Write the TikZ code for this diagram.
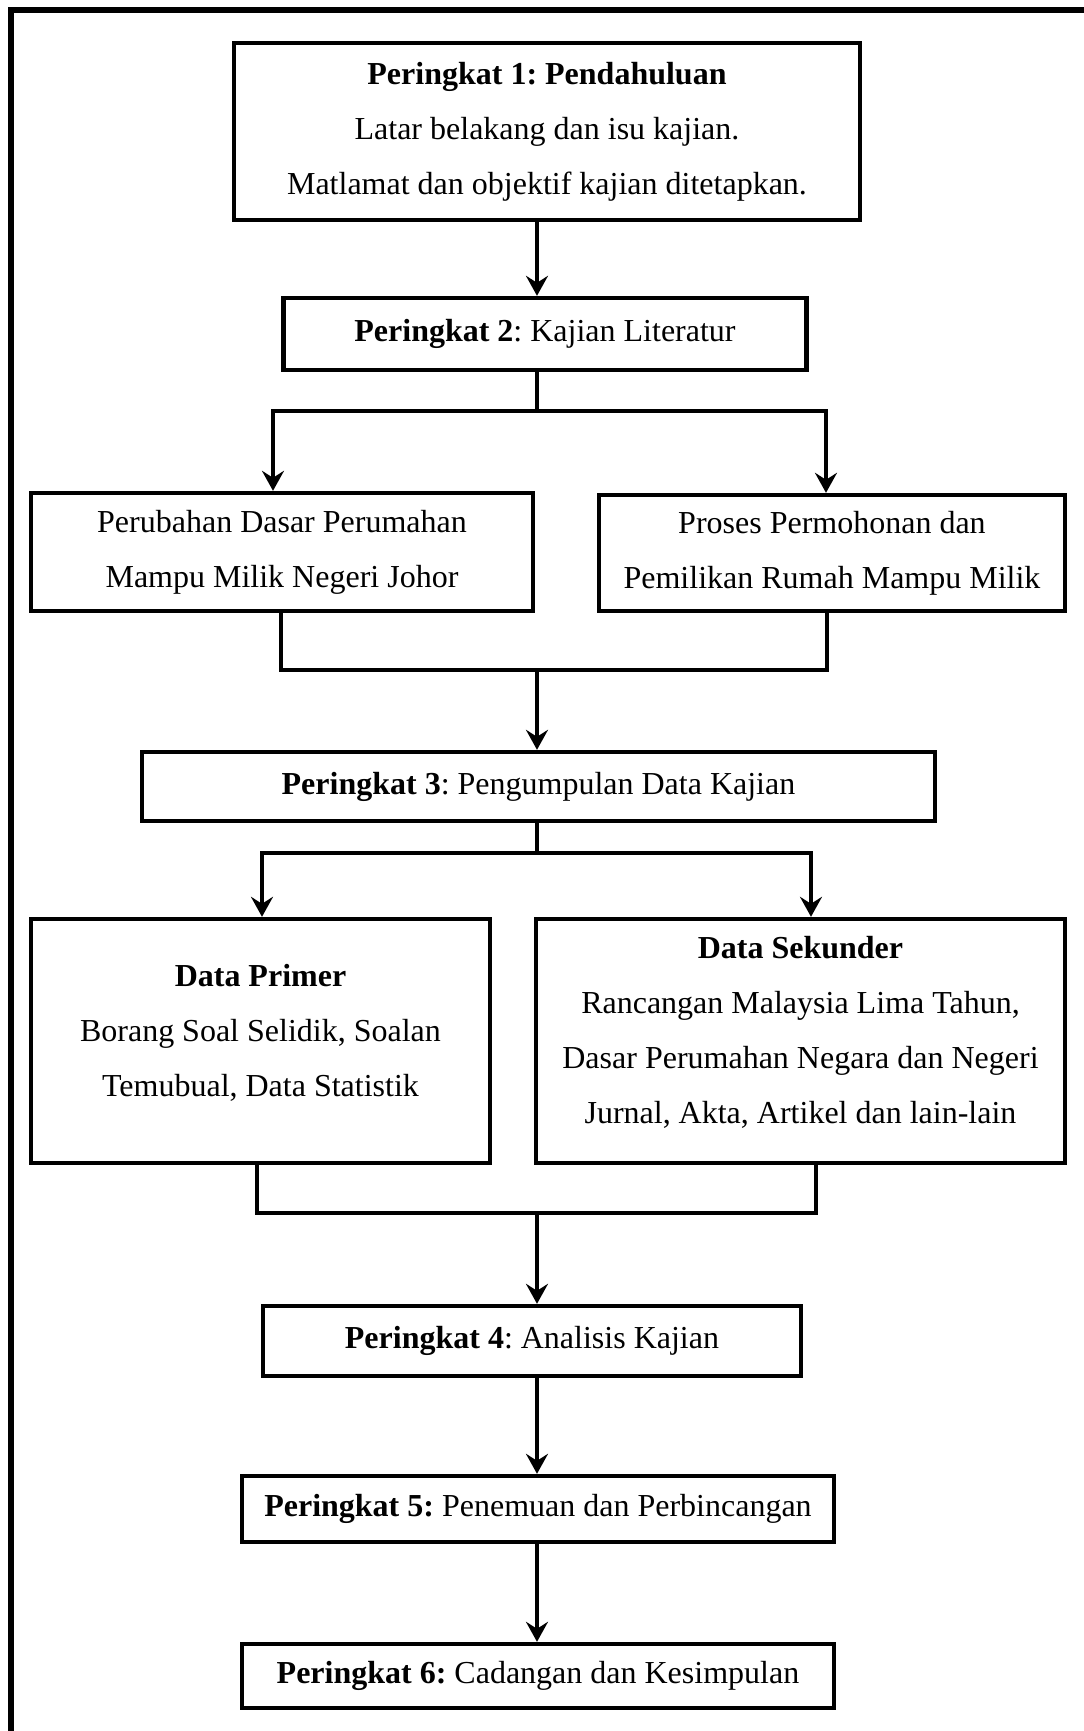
\documentclass[tikz,border=0pt]{standalone}
\usepackage{fontspec}
\setmainfont{Liberation Serif}
\usetikzlibrary{arrows.meta, positioning, calc}
\frenchspacing
\tikzset{
  >=Stealth,
  stagebox/.style={draw, line width=2.2pt, align=center, inner sep=0pt, font=\fontsize{16}{27.5}\selectfont},
  flowline/.style={line width=2pt, line join=miter},
  flowarrow/.style={-{Stealth[length=10pt, width=11pt, inset=3.5pt]}, line width=2pt, line join=miter}
}

\begin{document}
\begin{tikzpicture}[x=0.5pt, y=-0.5pt]
    \useasboundingbox (0,0) rectangle (1083,1731);
    % outer frame
    \draw[line width=3pt] (11,1745) -- (11,10) -- (1095,10);

    \node (pendahuluan) [stagebox, minimum width=313pt, minimum height=88.5pt] at (547,131.5)
      {\textbf{Peringkat 1: Pendahuluan}\\ Latar belakang dan isu kajian.\\ Matlamat dan objektif kajian ditetapkan.};
    \node (literatur) [stagebox, minimum width=261.5pt, minimum height=36pt] at (545,334)
      {\textbf{Peringkat 2}: Kajian Literatur};
    \node (perubahan) [stagebox, minimum width=251pt, minimum height=59pt] at (282,552)
      {Perubahan Dasar Perumahan\\ Mampu Milik Negeri Johor};
    \node (proses) [stagebox, minimum width=233pt, minimum height=58pt] at (832,553)
      {Proses Permohonan dan\\ Pemilikan Rumah Mampu Milik};
    \node (pengumpulan) [stagebox, minimum width=396.5pt, minimum height=34.5pt] at (538.5,786.5)
      {\textbf{Peringkat 3}: Pengumpulan Data Kajian};
    \node (primer) [stagebox, text depth=11pt, minimum width=229.5pt, minimum height=122pt] at (260.5,1041)
      {\textbf{Data Primer}\\ Borang Soal Selidik, Soalan\\ Temubual, Data Statistik};
    \node (sekunder) [stagebox, text depth=11pt, minimum width=264.5pt, minimum height=122pt] at (800.5,1041)
      {\textbf{Data Sekunder}\\ Rancangan Malaysia Lima Tahun,\\ Dasar Perumahan Negara dan Negeri\\ Jurnal, Akta, Artikel dan lain-lain};
    \node (analisis) [stagebox, minimum width=269pt, minimum height=35pt] at (532,1341)
      {\textbf{Peringkat 4}: Analisis Kajian};
    \node (penemuan) [stagebox, minimum width=296pt, minimum height=33pt] at (538,1509)
      {\textbf{Peringkat 5:} Penemuan dan Perbincangan};
    \node (cadangan) [stagebox, minimum width=296pt, minimum height=32pt] at (538,1676)
      {\textbf{Peringkat 6:} Cadangan dan Kesimpulan};

    % junction points
    \coordinate (axis) at (537,0);
    \coordinate (fork1) at (537,411);
    \coordinate (fork1L) at (273,0);
    \coordinate (fork1R) at (826,0);
    \coordinate (merge1) at (537,670);
    \coordinate (merge1L) at (281,0);
    \coordinate (merge1R) at (827,0);
    \coordinate (fork2) at (537,853);
    \coordinate (fork2L) at (262,0);
    \coordinate (fork2R) at (811,0);
    \coordinate (merge2) at (537,1213);
    \coordinate (merge2L) at (257,0);
    \coordinate (merge2R) at (816,0);

    \draw[flowarrow] (pendahuluan.south -| axis) -- (literatur.north -| axis);

    \draw[flowline] (literatur.south -| axis) -- (fork1);
    \draw[flowarrow] (fork1) -| (perubahan.north -| fork1L);
    \draw[flowarrow] (fork1) -| (proses.north -| fork1R);

    \draw[flowline] (perubahan.south -| merge1L) |- (merge1) -| (proses.south -| merge1R);
    \draw[flowarrow] (merge1) -- (pengumpulan.north -| merge1);

    \draw[flowline] (pengumpulan.south -| axis) -- (fork2);
    \draw[flowarrow] (fork2) -| (primer.north -| fork2L);
    \draw[flowarrow] (fork2) -| (sekunder.north -| fork2R);

    \draw[flowline] (primer.south -| merge2L) |- (merge2) -| (sekunder.south -| merge2R);
    \draw[flowarrow] (merge2) -- (analisis.north -| merge2);

    \draw[flowarrow] (analisis.south -| axis) -- (penemuan.north -| axis);
    \draw[flowarrow] (penemuan.south -| axis) -- (cadangan.north -| axis);
\end{tikzpicture}
\end{document}
